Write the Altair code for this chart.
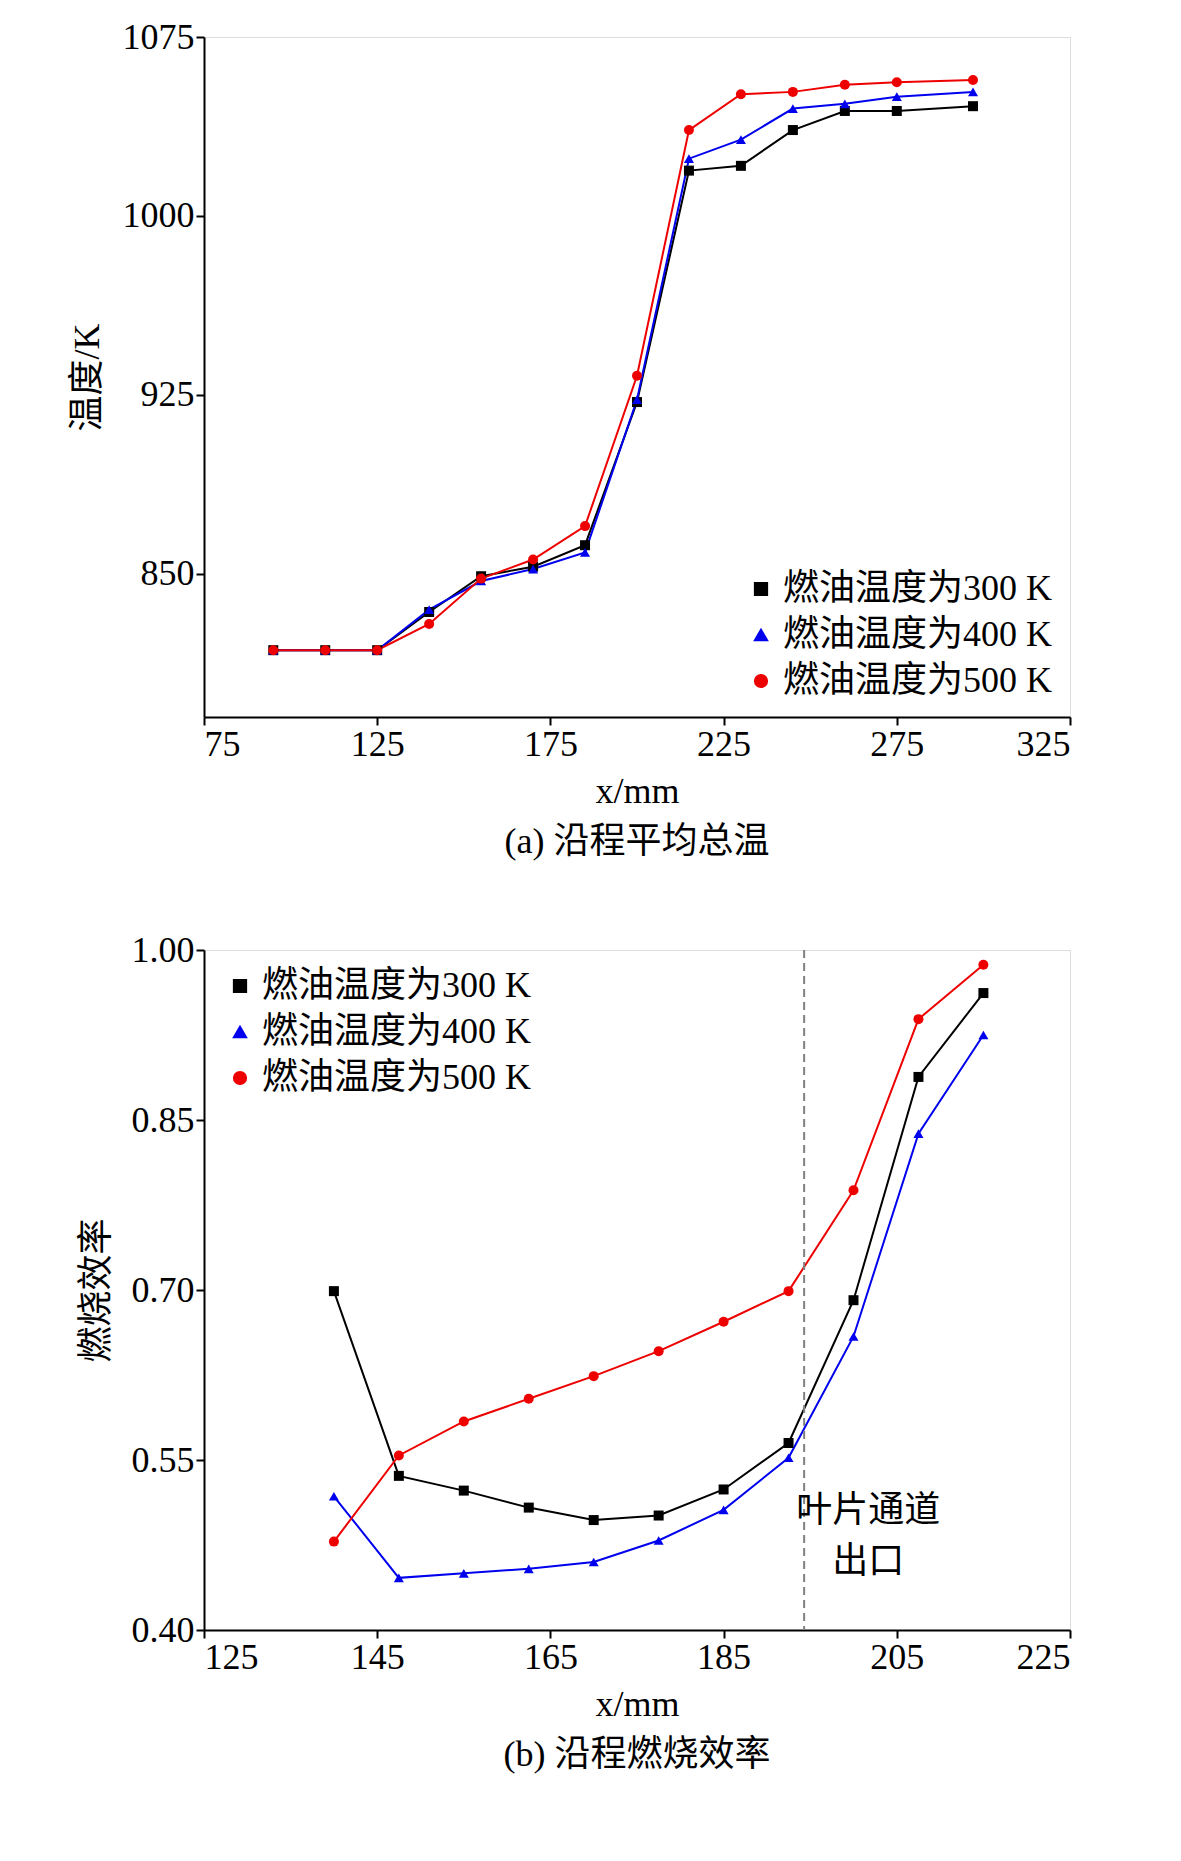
import altair as alt
import pandas as pd

FONT = "Liberation Serif, Noto Sans CJK SC"
series = ["燃油温度为300 K", "燃油温度为400 K", "燃油温度为500 K"]
colors = ["#000000", "#0000ee", "#ee0000"]
shapes = ["square", "triangle-up", "circle"]

xa = [95, 110, 125, 140, 155, 170, 185, 200, 215, 230, 245, 260, 275, 297]
ta_300 = [818, 818, 818, 834, 849, 853, 862, 922, 1019, 1021, 1036, 1044, 1044, 1046]
ta_400 = [818, 818, 818, 835, 847, 852, 859, 923, 1024, 1032, 1045, 1047, 1050, 1052]
ta_500 = [818, 818, 818, 829, 848, 856, 870, 933, 1036, 1051, 1052, 1055, 1056, 1057]

xb = [140, 147.5, 155, 162.5, 170, 177.5, 185, 192.5, 200, 207.5, 215]
eb_300 = [0.699, 0.536, 0.523, 0.508, 0.497, 0.501, 0.524, 0.565, 0.691, 0.888, 0.962]
eb_400 = [0.518, 0.446, 0.450, 0.454, 0.460, 0.479, 0.506, 0.552, 0.659, 0.838, 0.925]
eb_500 = [0.478, 0.554, 0.584, 0.604, 0.624, 0.646, 0.672, 0.699, 0.788, 0.939, 0.987]
dash_x = [194.3]

def frame(xs, ys_list):
    rows = []
    for s, ys in zip(series, ys_list):
        for x, y in zip(xs, ys):
            rows.append({"x": x, "y": y, "s": s})
    return pd.DataFrame(rows)

da = frame(xa, [ta_300, ta_400, ta_500])
db = frame(xb, [eb_300, eb_400, eb_500])

axis_common = dict(labelFont=FONT, titleFont=FONT, labelFontSize=36, titleFontSize=36,
                   titleFontWeight="normal", domainColor="black", tickColor="black",
                   labelColor="black", titleColor="black", grid=False, tickSize=8,
                   domainWidth=2, tickWidth=2)

def panel(df, xdom, xticks, ydom, yticks, ytitle, caption, legend_pos, yfmt):
    leg = alt.Legend(title=None, labelFont=FONT, labelFontSize=36,
                     orient=legend_pos, symbolSize=150, symbolType="stroke",
                     symbolStrokeWidth=2, labelLimit=500, rowPadding=10, labelColor="black")
    color = alt.Color("s:N", scale=alt.Scale(domain=series, range=colors), legend=leg)
    shape = alt.Shape("s:N", scale=alt.Scale(domain=series, range=shapes), legend=leg)
    X = alt.X("x:Q", scale=alt.Scale(domain=xdom, nice=False),
              axis=alt.Axis(values=xticks, title="x/mm", titlePadding=12, **axis_common))
    Y = alt.Y("y:Q", scale=alt.Scale(domain=ydom, nice=False, zero=False),
              axis=alt.Axis(values=yticks, title=ytitle, format=yfmt, titlePadding=16, **axis_common))
    base = alt.Chart(df)
    line = base.mark_line(strokeWidth=2).encode(x=X, y=Y, color=color, detail="s:N")
    pts = base.mark_point(filled=True, size=100, opacity=1).encode(x=X, y=Y, color=color, shape=shape)
    return alt.layer(line, pts).properties(width=866, height=680)

cap = dict(orient="bottom", font=FONT, fontSize=36, fontWeight="normal", offset=16, color="black")

top = panel(da, [75, 325], [75, 125, 175, 225, 275, 325], [790, 1075], [850, 925, 1000, 1075],
            "温度/K", "(a) 沿程平均总温", "bottom-right", "d").properties(
    title=alt.TitleParams("(a) 沿程平均总温", **cap))

bot = panel(db, [125, 225], [125, 145, 165, 185, 205, 225], [0.40, 1.00], [0.40, 0.55, 0.70, 0.85, 1.00],
            "燃烧效率", "(b) 沿程燃烧效率", "top-left", ".2f")

vline = alt.Chart(pd.DataFrame({"x": dash_x})).mark_rule(color="gray", strokeDash=[8, 5], strokeWidth=2).encode(
    x=alt.X("x:Q", scale=alt.Scale(domain=[125, 225], nice=False)))
ann = alt.Chart(pd.DataFrame({"x": [201.7, 201.7], "y": [0.505, 0.46], "t": ["叶片通道", "出口"]})).mark_text(
    font=FONT, fontSize=36, color="black").encode(
    x=alt.X("x:Q", scale=alt.Scale(domain=[125, 225], nice=False)),
    y=alt.Y("y:Q", scale=alt.Scale(domain=[0.4, 1.0], nice=False)), text="t:N")
bot = alt.layer(bot, vline, ann).properties(title=alt.TitleParams("(b) 沿程燃烧效率", **cap))

chart = alt.vconcat(top, bot, spacing=70).properties(
    padding={"left": 60, "top": 10, "right": 5, "bottom": 5}
).configure_view(stroke="#000000", strokeWidth=2).configure(background="white")
chart.save("out.html", embed_options={"renderer": "svg", "actions": False})
